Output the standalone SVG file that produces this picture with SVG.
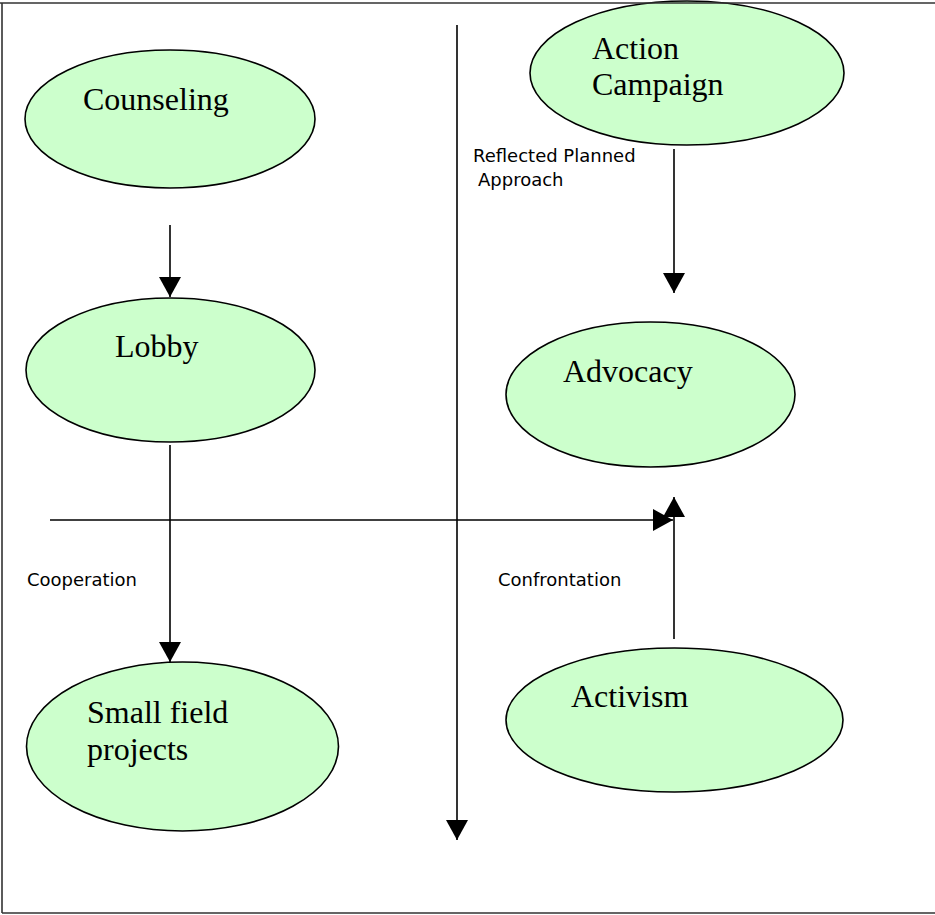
<svg xmlns="http://www.w3.org/2000/svg" width="935" height="915" viewBox="0 0 935 915">
<style>
.node{fill:#CCFFCC;stroke:#000;stroke-width:1.6}
.lbl{font-family:"Liberation Serif","Times New Roman",serif;font-size:32px;fill:#000}
.note{font-family:"DejaVu Sans",Verdana,sans-serif;font-size:18px;fill:#000}
.conn line{stroke:#000;stroke-width:1.6;fill:none}
.frame{stroke:#333;stroke-width:1.6;fill:none}
</style>
<defs>
<marker id="ah" markerUnits="userSpaceOnUse" markerWidth="22" markerHeight="22" viewBox="0 0 20 22" refX="20" refY="11" orient="auto">
<path d="M0,0 L20,11 L0,22 z" fill="#000"/>
</marker>
</defs>
<rect width="935" height="915" fill="#fff"/>
<g id="counseling">
<ellipse class="node" cx="170" cy="119" rx="145" ry="69"/>
<text class="lbl" x="83" y="110">Counseling</text>
</g>
<g id="action-campaign">
<ellipse class="node" cx="687" cy="73" rx="157" ry="72"/>
<text class="lbl" x="592" y="59">Action</text>
<text class="lbl" x="592" y="95">Campaign</text>
</g>
<g id="lobby">
<ellipse class="node" cx="170.5" cy="370" rx="144.5" ry="72"/>
<text class="lbl" x="115" y="357">Lobby</text>
</g>
<g id="advocacy">
<ellipse class="node" cx="650.5" cy="394.5" rx="144.5" ry="72.5"/>
<text class="lbl" x="563" y="382">Advocacy</text>
</g>
<g id="small-field-projects">
<ellipse class="node" cx="182.5" cy="746.5" rx="156" ry="84.5"/>
<text class="lbl" x="87" y="723">Small field</text>
<text class="lbl" x="87" y="760">projects</text>
</g>
<g id="activism">
<ellipse class="node" cx="674.5" cy="720" rx="168.5" ry="72"/>
<text class="lbl" x="571" y="707">Activism</text>
</g>
<g id="connectors" class="conn">
<line x1="170" y1="225" x2="170" y2="297" marker-end="url(#ah)"/>
<line x1="170" y1="445" x2="170" y2="662" marker-end="url(#ah)"/>
<line x1="674" y1="149" x2="674" y2="293" marker-end="url(#ah)"/>
<line x1="674" y1="639" x2="674" y2="497" marker-end="url(#ah)"/>
<line x1="50" y1="520" x2="673" y2="520" marker-end="url(#ah)"/>
<line x1="457" y1="25" x2="457" y2="840" marker-end="url(#ah)"/>
</g>
<g id="labels">
<text class="note" x="473" y="162">Reflected Planned</text>
<text class="note" x="478" y="186">Approach</text>
<text class="note" x="27" y="586">Cooperation</text>
<text class="note" x="498" y="586">Confrontation</text>
</g>
<g id="frame">
<path class="frame" d="M0,3 H935 M2,3 V913 M2,913 H935"/>
</g>
</svg>
